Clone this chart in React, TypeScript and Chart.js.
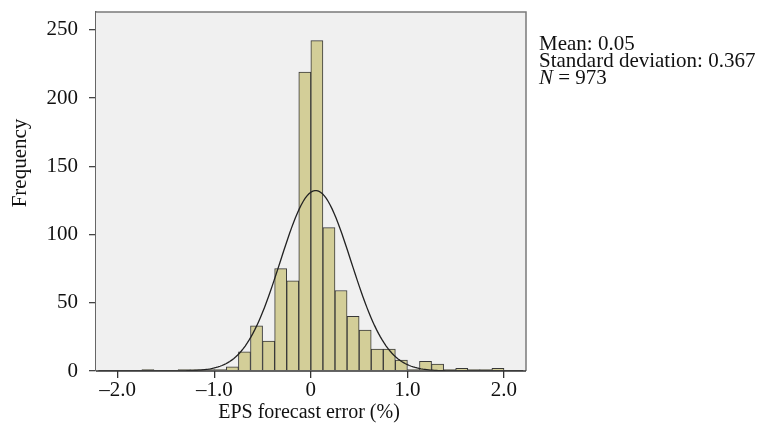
import React, { useEffect, useRef } from "react";
import { Chart, registerables } from "chart.js";

Chart.register(...registerables);

const binWidth = 0.125;
const binStarts = [
  -1.75, -1.625, -1.5, -1.375, -1.25, -1.125, -1.0, -0.875, -0.75, -0.625,
  -0.5, -0.375, -0.25, -0.125, 0, 0.125, 0.25, 0.375, 0.5, 0.625,
  0.75, 0.875, 1.0, 1.125, 1.25, 1.375, 1.5, 1.625, 1.75, 1.875,
];
const counts = [
  1, 0, 0, 1, 1, 1, 1, 3, 14, 33,
  22, 75, 66, 219, 242, 105, 59, 40, 30, 16,
  16, 8, 1, 7, 5, 1, 2, 1, 1, 2,
];
const xTickValues = [-2, -1, 0, 1, 2];
const xTickLabels = ["\u20132.0", "\u20131.0", "0", "1.0", "2.0"];
const yTickValues = [0, 50, 100, 150, 200, 250];

const mean = 0.05;
const sd = 0.367;
const n = 973;
const statLines = ["Mean: 0.05", "Standard deviation: 0.367"];

const FONT = "'Liberation Serif', 'Times New Roman', serif";

export default function App() {
  const ref = useRef<HTMLCanvasElement | null>(null);

  useEffect(() => {
    const canvas = ref.current;
    if (!canvas) return;

    const barData = binStarts.map((s, i) => ({ x: s + binWidth / 2, y: counts[i] }));
    const curve: { x: number; y: number }[] = [];
    for (let x = -2.2; x <= 2.2001; x += 0.02) {
      const z = (x - mean) / sd;
      curve.push({ x, y: (n * binWidth * Math.exp(-0.5 * z * z)) / (sd * Math.sqrt(2 * Math.PI)) });
    }

    const decor = {
      id: "decor",
      beforeDatasetsDraw(chart: any) {
        const { ctx, chartArea: a } = chart;
        ctx.save();
        ctx.fillStyle = "#f0f0f0";
        ctx.fillRect(a.left, a.top, a.right - a.left, a.bottom - a.top);
        ctx.restore();
      },
      afterDraw(chart: any) {
        const { ctx, chartArea: a } = chart;
        ctx.save();
        ctx.strokeStyle = "#7a7a7a";
        ctx.lineWidth = 1.5;
        ctx.beginPath();
        ctx.moveTo(a.left, a.top);
        ctx.lineTo(a.right, a.top);
        ctx.lineTo(a.right, a.bottom);
        ctx.stroke();
        ctx.strokeStyle = "#333";
        ctx.lineWidth = 1.5;
        ctx.beginPath();
        ctx.moveTo(a.left, a.bottom);
        ctx.lineTo(a.right, a.bottom);
        ctx.stroke();

        ctx.fillStyle = "#111";
        ctx.textBaseline = "middle";
        // y title
        ctx.save();
        ctx.font = `21px ${FONT}`;
        ctx.translate(20, 163);
        ctx.rotate(-Math.PI / 2);
        ctx.textAlign = "center";
        ctx.fillText("Frequency", 0, 0);
        ctx.restore();
        // x title
        ctx.font = `20px ${FONT}`;
        ctx.textAlign = "center";
        ctx.fillText("EPS forecast error (%)", 309, 413);
        // stats
        ctx.textAlign = "left";
        ctx.font = `21px ${FONT}`;
        ctx.fillText(statLines[0], 539, 44);
        ctx.fillText(statLines[1], 539, 61);
        ctx.font = `italic 21px ${FONT}`;
        ctx.fillText("N", 539, 78);
        const w = ctx.measureText("N").width;
        ctx.font = `21px ${FONT}`;
        ctx.fillText(` = ${n}`, 539 + w, 78);
        ctx.restore();
      },
    };

    const chart = new Chart(canvas, {
      type: "bar",
      data: {
        datasets: [
          {
            type: "line",
            data: curve,
            borderColor: "#222",
            borderWidth: 1.3,
            pointRadius: 0,
            tension: 0,
            fill: false,
            order: 0,
          } as any,
          {
            type: "bar",
            data: barData,
            backgroundColor: "#d3ce98",
            borderColor: "#383838",
            borderWidth: 1,
            barPercentage: 1,
            categoryPercentage: 1,
            order: 1,
          } as any,
        ],
      },
      options: {
        responsive: false,
        animation: false,
        devicePixelRatio: 1,
        layout: { padding: { left: 0, top: 12, right: 236, bottom: 0 } },
        plugins: { legend: { display: false }, tooltip: { enabled: false } },
        scales: {
          x: {
            type: "linear",
            min: -2.225,
            max: 2.228,
            offset: false,
            grid: { offset: false, drawOnChartArea: false, drawTicks: true, tickLength: 7, color: "#333", lineWidth: 1.3 },
            border: { display: false },
            afterBuildTicks: (s: any) => {
              s.ticks = xTickValues.map((v) => ({ value: v }));
            },
            afterFit: (s: any) => {
              s.height = 73;
              s.paddingLeft = 0;
              s.paddingRight = 0;
            },
            ticks: {
              autoSkip: false,
              maxRotation: 0,
              padding: 0,
              color: "#111",
              font: { family: FONT, size: 21 },
              callback: (v: any) => {
                const i = xTickValues.indexOf(Number(v));
                return i >= 0 ? xTickLabels[i] : "";
              },
            },
          },
          y: {
            type: "linear",
            min: 0,
            max: 263,
            grid: { drawOnChartArea: false, drawTicks: true, tickLength: 7, color: "#444", lineWidth: 1.3 },
            border: { display: true, color: "#666", width: 1.5 },
            afterBuildTicks: (s: any) => {
              s.ticks = yTickValues.map((v) => ({ value: v }));
            },
            afterFit: (s: any) => {
              s.width = 96;
              s.paddingTop = 0;
              s.paddingBottom = 0;
            },
            ticks: {
              padding: 11,
              color: "#111",
              font: { family: FONT, size: 21 },
            },
          },
        },
      },
      plugins: [decor],
    });

    return () => chart.destroy();
  }, []);

  return (
    <div style={{ position: "fixed", left: 0, top: 0, width: 762, height: 444, background: "#fff" }}>
      <canvas ref={ref} width={762} height={444} style={{ width: 762, height: 444 }} />
    </div>
  );
}
